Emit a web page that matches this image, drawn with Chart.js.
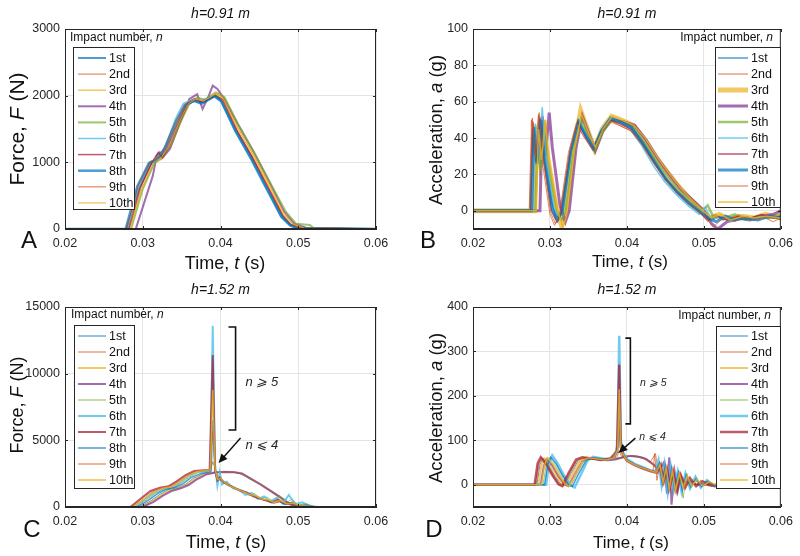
<!DOCTYPE html>
<html>
<head>
<meta charset="utf-8">
<script src="https://cdn.jsdelivr.net/npm/chart.js@4.4.1/dist/chart.umd.min.js"></script>
<style>
  body { margin: 0; background: #fff; }
  .panel { position: absolute; width: 400px; height: 278px; }
</style>
</head>
<body>
<div class="panel" style="left:0;top:0"><canvas id="cA" width="400" height="278"></canvas></div>
<div class="panel" style="left:400px;top:0"><canvas id="cB" width="400" height="278"></canvas></div>
<div class="panel" style="left:0;top:278px"><canvas id="cC" width="400" height="278"></canvas></div>
<div class="panel" style="left:400px;top:278px"><canvas id="cD" width="400" height="278"></canvas></div>
<script>
// impact labels and tick values
const impacts = ['1st','2nd','3rd','4th','5th','6th','7th','8th','9th','10th'];
const timeTicks = [0.02, 0.03, 0.04, 0.05, 0.06];
const forceTicksA = [0, 1000, 2000, 3000];
const accTicksB = [0, 20, 40, 60, 80, 100];
const forceTicksC = [0, 5000, 10000, 15000];
const accTicksD = [0, 100, 200, 300, 400];

// A: force, h = 0.91 m  [time s, force N]
const A1 = [[0.02,0],[0.0279,0],[0.0295,600],[0.031,980],[0.032,1050],[0.033,1200],[0.0345,1600],[0.0355,1850],[0.0365,1930],[0.0375,1900],[0.0392,2000],[0.040,1940],[0.042,1480],[0.044,1080],[0.046,620],[0.048,180],[0.049,60],[0.050,10],[0.06,0]];
const A2 = [[0.02,0],[0.028,0],[0.0296,620],[0.0312,1000],[0.0322,1060],[0.0332,1250],[0.0347,1650],[0.0357,1880],[0.0367,1950],[0.0377,1910],[0.0394,2010],[0.0402,1930],[0.042,1500],[0.044,1100],[0.046,650],[0.048,200],[0.0492,50],[0.0505,15],[0.0545,10],[0.06,0]];
const A3 = [[0.02,0],[0.0283,0],[0.0298,580],[0.0314,990],[0.0325,1050],[0.0335,1230],[0.0349,1620],[0.0359,1860],[0.0369,1960],[0.0379,1930],[0.0395,2030],[0.0404,1960],[0.0422,1520],[0.0442,1110],[0.0462,660],[0.048,230],[0.0495,60],[0.051,10],[0.06,0]];
const A4 = [[0.02,0],[0.0291,0],[0.0302,400],[0.0313,800],[0.0318,1100],[0.0322,1150],[0.0326,1080],[0.0335,1200],[0.0348,1600],[0.036,1950],[0.037,2020],[0.0377,1800],[0.0385,2000],[0.039,2150],[0.0396,2100],[0.0405,1950],[0.0423,1560],[0.0443,1150],[0.0463,700],[0.0482,260],[0.0495,80],[0.051,20],[0.0525,0],[0.06,0]];
const A5 = [[0.02,0],[0.0285,0],[0.03,600],[0.0315,990],[0.0326,1080],[0.0336,1260],[0.035,1640],[0.036,1880],[0.037,1970],[0.038,1940],[0.0394,2050],[0.0405,1980],[0.0424,1540],[0.0444,1130],[0.0464,690],[0.0484,260],[0.0497,80],[0.0505,70],[0.0515,60],[0.052,10],[0.06,0]];
const A6 = [[0.02,0],[0.0281,0],[0.0294,650],[0.0309,1000],[0.032,1070],[0.033,1260],[0.0342,1650],[0.0352,1880],[0.0365,1950],[0.0375,1930],[0.0392,1990],[0.0401,1900],[0.042,1450],[0.044,1040],[0.046,590],[0.0478,170],[0.0488,60],[0.0495,20],[0.06,0]];
const A7 = [[0.02,0],[0.0282,0],[0.0297,620],[0.0312,1000],[0.032,1150],[0.0325,1070],[0.0334,1240],[0.0348,1630],[0.0358,1870],[0.0368,1940],[0.0378,1900],[0.0394,2000],[0.0403,1940],[0.0421,1480],[0.0441,1070],[0.0461,630],[0.048,200],[0.049,70],[0.0505,10],[0.06,0]];
const A8 = [[0.02,0],[0.0278,0],[0.0293,640],[0.0308,990],[0.0318,1040],[0.0328,1210],[0.0343,1620],[0.0354,1860],[0.0366,1920],[0.0376,1880],[0.0392,1990],[0.0401,1920],[0.0419,1470],[0.0439,1060],[0.0459,610],[0.0478,190],[0.049,50],[0.0502,10],[0.06,0]];
const A9 = [[0.02,0],[0.0279,0],[0.0294,660],[0.0309,1010],[0.0319,1060],[0.0329,1230],[0.0344,1640],[0.0354,1870],[0.0366,1960],[0.0376,1920],[0.0393,2020],[0.0402,1950],[0.0421,1490],[0.0441,1090],[0.0461,640],[0.048,210],[0.0492,60],[0.0505,10],[0.0545,15],[0.06,0]];
const A10 = [[0.02,0],[0.0284,0],[0.0299,600],[0.0314,1000],[0.0324,1070],[0.0334,1240],[0.0348,1630],[0.0358,1870],[0.0368,1950],[0.0378,1920],[0.0394,2030],[0.0403,1970],[0.0422,1520],[0.0442,1120],[0.0462,680],[0.0481,240],[0.0494,70],[0.0508,10],[0.06,0]];

// B: acceleration, h = 0.91 m  [time s, acc g]
const B1 = [[0.02,0],[0.0274,0],[0.0277,45],[0.0281,25],[0.0286,52],[0.029,35],[0.0302,5],[0.0308,-4],[0.0314,0],[0.0326,30],[0.0336,49],[0.0346,42],[0.0356,35],[0.0366,44],[0.0378,51],[0.039,49],[0.0405,46],[0.042,38],[0.0435,27],[0.045,18],[0.0465,11],[0.048,5],[0.0495,0],[0.0505,-4],[0.0515,-2],[0.0525,-5],[0.054,-3],[0.0555,-5],[0.057,-3],[0.0585,-4],[0.06,-3]];
const B2 = [[0.02,0],[0.0273,0],[0.0276,50],[0.028,28],[0.0285,53],[0.0289,30],[0.03,-2],[0.0306,-8],[0.0312,-3],[0.0324,32],[0.0334,48],[0.0344,41],[0.0356,33],[0.0366,43],[0.0378,50],[0.039,47],[0.0405,44],[0.042,36],[0.0435,26],[0.045,17],[0.0465,10],[0.048,4],[0.0495,-1],[0.0505,-6],[0.0515,-3],[0.053,-5],[0.0545,-2],[0.056,-5],[0.0575,-3],[0.059,-6],[0.06,-4]];
const B3 = [[0.02,0],[0.028,0],[0.0283,47],[0.0287,30],[0.0292,50],[0.0296,32],[0.0308,2],[0.0315,-8],[0.032,-2],[0.0331,35],[0.034,55],[0.035,43],[0.0358,34],[0.0368,45],[0.038,52],[0.0392,50],[0.0408,47],[0.0423,39],[0.0438,29],[0.0453,21],[0.0468,13],[0.0483,6],[0.0498,0],[0.0508,-4],[0.052,-2],[0.0535,-5],[0.055,-3],[0.0565,-4],[0.058,-2],[0.06,-4]];
const B4 = [[0.02,0],[0.0287,0],[0.029,52],[0.0294,30],[0.0299,54],[0.0303,35],[0.0313,3],[0.032,-6],[0.0325,0],[0.0334,35],[0.0342,52],[0.0351,42],[0.0359,33],[0.0369,44],[0.038,50],[0.0395,49],[0.041,47],[0.0425,39],[0.044,29],[0.0455,20],[0.047,12],[0.0485,6],[0.05,0],[0.051,-7],[0.0518,-10],[0.053,-6],[0.0545,-4],[0.056,-5],[0.0575,-3],[0.059,-2],[0.06,0]];
const B5 = [[0.02,0],[0.0281,0],[0.0284,40],[0.0288,22],[0.0293,48],[0.0297,28],[0.0309,0],[0.0315,-5],[0.032,-1],[0.0331,33],[0.034,50],[0.035,41],[0.0358,33],[0.0368,43],[0.038,50],[0.0392,49],[0.0407,46],[0.0422,38],[0.0437,28],[0.0452,19],[0.0467,11],[0.0482,5],[0.0497,0],[0.0505,3],[0.0512,-3],[0.0525,-4],[0.054,-2],[0.0555,-5],[0.057,-3],[0.0585,-4],[0.06,-2]];
const B6 = [[0.02,0],[0.0278,0],[0.0281,48],[0.0285,30],[0.029,57],[0.0294,33],[0.0305,2],[0.0311,-4],[0.0317,0],[0.0328,33],[0.0337,50],[0.0347,42],[0.0356,34],[0.0366,44],[0.0378,51],[0.039,49],[0.0404,45],[0.0419,36],[0.0434,25],[0.0449,16],[0.0464,9],[0.0479,3],[0.0494,-2],[0.0502,2],[0.051,-5],[0.0522,-3],[0.0535,-6],[0.055,-3],[0.0565,-5],[0.058,-3],[0.06,-4]];
const B7 = [[0.02,0],[0.0275,0],[0.0278,49],[0.0282,27],[0.0287,51],[0.0291,30],[0.0302,0],[0.0309,-6],[0.0315,-1],[0.0326,32],[0.0336,49],[0.0346,41],[0.0356,34],[0.0366,43],[0.0378,50],[0.039,48],[0.0405,45],[0.042,37],[0.0435,27],[0.045,18],[0.0465,10],[0.048,4],[0.0495,-1],[0.0505,-5],[0.0518,-3],[0.053,-5],[0.0545,-3],[0.056,-4],[0.0575,-2],[0.059,-4],[0.06,-3]];
const B8 = [[0.02,0],[0.0276,0],[0.0279,46],[0.0283,26],[0.0288,50],[0.0292,31],[0.0303,1],[0.031,-5],[0.0316,0],[0.0327,33],[0.0337,49],[0.0347,41],[0.0357,34],[0.0367,44],[0.0379,51],[0.0391,49],[0.0406,46],[0.0421,37],[0.0436,27],[0.0451,17],[0.0466,10],[0.0481,4],[0.0496,-1],[0.0506,-4],[0.0516,-6],[0.0528,-3],[0.054,-5],[0.0555,-4],[0.057,-5],[0.0585,-3],[0.06,-4]];
const B9 = [[0.02,0],[0.0274,0],[0.0277,51],[0.0281,29],[0.0286,54],[0.029,32],[0.0301,-1],[0.0307,-7],[0.0313,-2],[0.0325,31],[0.0335,48],[0.0345,40],[0.0356,33],[0.0366,42],[0.0378,49],[0.039,47],[0.0405,44],[0.042,36],[0.0435,26],[0.045,17],[0.0465,10],[0.048,4],[0.0495,-1],[0.0505,-5],[0.0512,-9],[0.0525,-4],[0.054,-6],[0.0555,-3],[0.057,-5],[0.0585,-3],[0.06,-5]];
const B10 = [[0.02,0],[0.0282,0],[0.0285,45],[0.0289,28],[0.0294,50],[0.0298,30],[0.031,0],[0.0317,-9],[0.0322,-2],[0.0332,34],[0.0341,53],[0.0351,42],[0.0359,35],[0.0369,45],[0.0381,52],[0.0393,50],[0.0409,47],[0.0424,40],[0.0439,30],[0.0454,21],[0.0469,13],[0.0484,6],[0.0499,0],[0.051,-4],[0.0522,-2],[0.0535,-5],[0.055,-3],[0.0565,-4],[0.058,-3],[0.06,-4]];

// C: force, h = 1.52 m
const C1 = [[0.02,0],[0.0296,0],[0.031,450],[0.0322,950],[0.0333,1300],[0.0345,1450],[0.0355,1700],[0.0365,2150],[0.0378,2500],[0.039,2600],[0.0402,2650],[0.0415,2620],[0.0425,2520],[0.045,1700],[0.0474,780],[0.0487,220],[0.0496,30],[0.0505,0],[0.06,0]];
const C2 = [[0.02,0],[0.0287,0],[0.0301,600],[0.0313,1150],[0.0325,1420],[0.0336,1530],[0.0346,1880],[0.0357,2350],[0.0369,2670],[0.038,2740],[0.0387,2780],[0.039,3400],[0.0394,2700],[0.0398,2100],[0.0404,1850],[0.0412,1550],[0.042,1350],[0.0428,1200],[0.0436,950],[0.0444,800],[0.0452,600],[0.046,480],[0.0468,320],[0.0476,420],[0.0484,200],[0.0492,280],[0.05,80],[0.051,60],[0.052,0],[0.06,0]];
const C3 = [[0.02,0],[0.0298,0],[0.0312,420],[0.0324,900],[0.0335,1250],[0.0347,1430],[0.0357,1680],[0.0367,2100],[0.038,2480],[0.0392,2590],[0.0404,2640],[0.0417,2620],[0.0427,2530],[0.0452,1680],[0.0476,760],[0.0489,200],[0.0498,20],[0.0507,0],[0.06,0]];
const C4 = [[0.02,0],[0.03,0],[0.0314,380],[0.0326,850],[0.0337,1200],[0.0349,1400],[0.0359,1650],[0.0369,2050],[0.0382,2450],[0.0394,2580],[0.0406,2620],[0.0418,2600],[0.0428,2500],[0.0453,1650],[0.0477,740],[0.049,200],[0.0499,20],[0.0508,0],[0.06,0]];
const C5 = [[0.02,0],[0.0291,0],[0.0305,550],[0.0317,1050],[0.0329,1350],[0.034,1480],[0.035,1800],[0.036,2250],[0.0372,2600],[0.0383,2700],[0.0387,2800],[0.039,11200],[0.0393,3000],[0.0396,1900],[0.0399,2300],[0.0403,1800],[0.041,1700],[0.042,1350],[0.0428,1200],[0.0436,900],[0.0444,1000],[0.0452,650],[0.046,750],[0.0468,400],[0.0476,850],[0.0484,300],[0.0492,600],[0.05,150],[0.051,250],[0.052,50],[0.053,0],[0.06,0]];
const C6 = [[0.02,0],[0.0289,0],[0.0303,580],[0.0315,1100],[0.0327,1380],[0.0338,1500],[0.0348,1850],[0.0358,2300],[0.037,2650],[0.0382,2720],[0.0387,2800],[0.039,13600],[0.0393,3200],[0.0396,1600],[0.0399,2600],[0.0402,1700],[0.0408,1900],[0.0416,1400],[0.0424,1300],[0.0432,900],[0.044,1050],[0.0448,600],[0.0456,800],[0.0464,400],[0.0472,700],[0.048,250],[0.0488,900],[0.0496,200],[0.0505,350],[0.0515,80],[0.0525,0],[0.06,0]];
const C7 = [[0.02,0],[0.0284,0],[0.0298,650],[0.031,1200],[0.0322,1450],[0.0333,1550],[0.0343,1900],[0.0355,2400],[0.0366,2700],[0.0378,2750],[0.0386,2780],[0.039,11400],[0.0393,2800],[0.0396,2000],[0.0399,2200],[0.0404,1900],[0.041,1650],[0.0418,1450],[0.0426,1200],[0.0434,1100],[0.0442,800],[0.045,650],[0.0458,500],[0.0466,350],[0.0474,550],[0.0482,250],[0.049,300],[0.05,100],[0.051,50],[0.052,0],[0.06,0]];
const C8 = [[0.02,0],[0.0293,0],[0.0307,500],[0.0319,1000],[0.033,1320],[0.0342,1480],[0.0352,1750],[0.0362,2200],[0.0375,2520],[0.0385,2620],[0.0388,2700],[0.039,6500],[0.0393,2700],[0.0396,2000],[0.04,2100],[0.0405,1800],[0.0412,1600],[0.042,1350],[0.0428,1250],[0.0436,950],[0.0444,850],[0.0452,600],[0.046,500],[0.0468,300],[0.0476,450],[0.0484,200],[0.0492,350],[0.05,100],[0.051,150],[0.052,0],[0.06,0]];
const C9 = [[0.02,0],[0.0285,0],[0.0299,640],[0.0311,1180],[0.0323,1440],[0.0334,1540],[0.0344,1890],[0.0356,2380],[0.0367,2690],[0.0379,2750],[0.0386,2800],[0.039,5700],[0.0393,2900],[0.0396,2100],[0.04,2000],[0.0406,1850],[0.0414,1500],[0.0422,1300],[0.043,1150],[0.0438,900],[0.0446,750],[0.0454,550],[0.0462,450],[0.047,300],[0.0478,400],[0.0486,200],[0.0494,250],[0.0505,80],[0.0515,40],[0.0525,0],[0.06,0]];
const C10 = [[0.02,0],[0.0288,0],[0.0302,600],[0.0314,1130],[0.0326,1400],[0.0337,1520],[0.0347,1870],[0.0358,2330],[0.037,2660],[0.0381,2730],[0.0387,2790],[0.039,8800],[0.0393,2900],[0.0396,2050],[0.04,2150],[0.0406,1800],[0.0413,1550],[0.0421,1350],[0.0429,1150],[0.0437,950],[0.0445,850],[0.0453,600],[0.0461,550],[0.0469,350],[0.0477,500],[0.0485,250],[0.0493,300],[0.0502,100],[0.0512,80],[0.0522,0],[0.06,0]];

// D: acceleration, h = 1.52 m
const D1 = [[0.02,0],[0.0283,0],[0.0287,45],[0.0291,60],[0.0298,45],[0.0306,20],[0.0314,2],[0.0319,-2],[0.0327,25],[0.0337,55],[0.0345,60],[0.0358,58],[0.037,55],[0.038,58],[0.039,60],[0.040,65],[0.041,65],[0.042,62],[0.043,52],[0.044,36],[0.0452,22],[0.0465,12],[0.048,5],[0.049,8],[0.05,0],[0.052,-2],[0.054,-4],[0.056,-3],[0.058,-5],[0.06,-3]];
const D2 = [[0.02,0],[0.0281,0],[0.0285,48],[0.0289,62],[0.0296,46],[0.0304,20],[0.0312,0],[0.0317,-3],[0.0325,27],[0.0335,56],[0.0343,61],[0.0356,58],[0.0368,55],[0.038,59],[0.0387,62],[0.039,76],[0.0393,64],[0.04,64],[0.041,64],[0.042,61],[0.043,50],[0.0437,70],[0.0441,30],[0.0452,22],[0.0465,10],[0.048,4],[0.05,-1],[0.052,-3],[0.054,-5],[0.056,-2],[0.058,-6],[0.06,-4]];
const D3 = [[0.02,0],[0.0285,0],[0.0289,44],[0.0293,59],[0.03,45],[0.0308,21],[0.0316,3],[0.0321,-2],[0.0329,24],[0.0339,54],[0.0347,60],[0.036,58],[0.0372,55],[0.0382,58],[0.0392,61],[0.0402,65],[0.0412,64],[0.0422,60],[0.0432,48],[0.0442,33],[0.0454,20],[0.0467,10],[0.0482,4],[0.05,0],[0.052,-3],[0.054,-2],[0.056,-4],[0.058,-3],[0.06,-5]];
const D4 = [[0.02,0],[0.0288,0],[0.0292,42],[0.0296,58],[0.0303,44],[0.0311,20],[0.0319,2],[0.0324,-3],[0.0332,23],[0.0342,53],[0.035,59],[0.0363,57],[0.0375,55],[0.0385,57],[0.0395,62],[0.0405,65],[0.0415,63],[0.0425,58],[0.0435,45],[0.0442,32],[0.0448,50],[0.0452,-20],[0.0455,62],[0.0458,-45],[0.0462,30],[0.0466,-15],[0.047,20],[0.0475,5],[0.048,10],[0.049,0],[0.05,2],[0.052,-3],[0.054,-4],[0.056,-2],[0.058,-5],[0.06,-3]];
const D5 = [[0.02,0],[0.0291,0],[0.0295,44],[0.0299,60],[0.0306,46],[0.0314,21],[0.0322,2],[0.0327,-3],[0.0335,25],[0.0345,55],[0.0353,60],[0.0364,58],[0.0375,56],[0.0384,62],[0.0388,80],[0.039,275],[0.0392,90],[0.0395,70],[0.04,55],[0.041,45],[0.042,38],[0.043,32],[0.0438,28],[0.0443,50],[0.0447,5],[0.0451,40],[0.0455,-10],[0.0459,35],[0.0463,-20],[0.0468,30],[0.0473,-30],[0.0478,25],[0.0483,-5],[0.049,15],[0.0497,-5],[0.0505,8],[0.0515,-3],[0.053,2],[0.055,-4],[0.057,-2],[0.06,-5]];
const D6 = [[0.02,0],[0.0295,0],[0.0299,50],[0.0303,66],[0.031,48],[0.0318,22],[0.0326,0],[0.0332,-6],[0.034,22],[0.0349,55],[0.0356,63],[0.0366,60],[0.0376,57],[0.0384,63],[0.0388,90],[0.039,335],[0.0392,100],[0.0395,72],[0.04,58],[0.041,47],[0.042,40],[0.043,33],[0.0437,30],[0.0441,55],[0.0445,0],[0.0449,45],[0.0453,-15],[0.0457,40],[0.0461,-10],[0.0466,30],[0.0471,-15],[0.0476,25],[0.0482,-8],[0.0489,18],[0.0496,-6],[0.0504,10],[0.0514,-4],[0.0525,4],[0.054,-5],[0.056,-2],[0.058,-4],[0.06,-3]];
const D7 = [[0.02,0],[0.028,0],[0.0284,48],[0.0288,62],[0.0295,47],[0.0303,22],[0.0311,1],[0.0316,-3],[0.0324,26],[0.0334,57],[0.0342,62],[0.0355,59],[0.0367,56],[0.0379,60],[0.0387,75],[0.039,270],[0.0392,85],[0.0395,68],[0.04,54],[0.041,44],[0.042,37],[0.043,31],[0.0439,27],[0.0444,45],[0.0448,8],[0.0452,35],[0.0456,-5],[0.046,30],[0.0465,-12],[0.047,22],[0.0476,-6],[0.0482,15],[0.049,-3],[0.0498,8],[0.051,-2],[0.0525,3],[0.054,-3],[0.056,-5],[0.058,-3],[0.06,-4]];
const D8 = [[0.02,0],[0.0293,0],[0.0297,46],[0.0301,62],[0.0308,47],[0.0316,22],[0.0324,1],[0.0329,-4],[0.0337,24],[0.0347,55],[0.0355,61],[0.0365,59],[0.0375,56],[0.0384,62],[0.0388,75],[0.039,160],[0.0392,80],[0.0395,68],[0.04,56],[0.041,46],[0.042,39],[0.043,33],[0.0438,29],[0.0442,48],[0.0446,2],[0.045,42],[0.0454,-12],[0.0458,36],[0.0462,-8],[0.0467,28],[0.0472,-12],[0.0477,22],[0.0483,-5],[0.049,14],[0.0497,-4],[0.0505,8],[0.0515,-3],[0.053,3],[0.055,-4],[0.057,-2],[0.06,-4]];
const D9 = [[0.02,0],[0.0282,0],[0.0286,47],[0.029,61],[0.0297,46],[0.0305,21],[0.0313,1],[0.0318,-3],[0.0326,26],[0.0336,56],[0.0344,61],[0.0357,58],[0.0369,55],[0.038,60],[0.0387,72],[0.039,140],[0.0392,78],[0.0395,67],[0.04,54],[0.041,45],[0.042,38],[0.0428,34],[0.0434,30],[0.0436,70],[0.0439,10],[0.0443,45],[0.0447,0],[0.0451,38],[0.0455,-8],[0.0459,32],[0.0464,-10],[0.0469,25],[0.0475,-5],[0.0481,18],[0.0488,-3],[0.0496,10],[0.0506,-3],[0.052,4],[0.054,-4],[0.056,-3],[0.058,-6],[0.06,-4]];
const D10 = [[0.02,0],[0.0289,0],[0.0293,45],[0.0297,61],[0.0304,46],[0.0312,21],[0.032,1],[0.0325,-3],[0.0333,25],[0.0343,55],[0.0351,61],[0.0362,58],[0.0373,56],[0.0383,61],[0.0388,78],[0.039,215],[0.0392,85],[0.0395,69],[0.04,55],[0.041,45],[0.042,38],[0.043,32],[0.0438,28],[0.0443,46],[0.0447,6],[0.0451,38],[0.0455,-10],[0.0459,33],[0.0463,-14],[0.0468,26],[0.0473,-8],[0.0478,20],[0.0484,-4],[0.0491,13],[0.0498,-3],[0.0507,7],[0.0518,-2],[0.053,3],[0.055,-3],[0.057,-5],[0.06,-3]];

// matlab-ish line colours, a bit faded
const colors = ['rgba(0,114,189,0.7)','rgba(217,83,25,0.7)','rgba(237,177,32,0.7)','rgba(126,47,142,0.7)','rgba(119,172,48,0.7)',
                'rgba(77,190,238,0.8)','rgba(162,20,47,0.7)','rgba(0,114,189,0.7)','rgba(217,83,25,0.7)','rgba(237,177,32,0.8)'];

const FONT = '"Liberation Sans", Arial, sans-serif';
const INK = '#262626';

function rich(ctx, parts, x, y, size, align) {
  let w = 0;
  parts.forEach(p => { ctx.font = (p[1] ? 'italic ' : '') + size + 'px ' + FONT; w += ctx.measureText(p[0]).width; });
  let cx = align === 'center' ? x - w / 2 : align === 'right' ? x - w : x;
  ctx.textAlign = 'left';
  ctx.textBaseline = 'middle';
  parts.forEach(p => {
    ctx.font = (p[1] ? 'italic ' : '') + size + 'px ' + FONT;
    ctx.fillText(p[0], cx, y);
    cx += ctx.measureText(p[0]).width;
  });
}

const panelPlugin = {
  id: 'panel',
  afterDatasetsDraw(chart, args, o) {
    const {ctx, chartArea: a, scales: {x, y}} = chart;
    ctx.save();
    ctx.strokeStyle = INK;
    ctx.lineWidth = 1;
    ctx.strokeRect(a.left + 0.5, a.top + 0.5, a.width - 1, a.height - 1);
    // inner tick marks
    ctx.beginPath();
    timeTicks.forEach(t => {
      const px = Math.round(x.getPixelForValue(t)) + 0.5;
      ctx.moveTo(px, a.bottom); ctx.lineTo(px, a.bottom - 3);
      ctx.moveTo(px, a.top); ctx.lineTo(px, a.top + 3);
    });
    o.yTicks.forEach(v => {
      const py = Math.round(y.getPixelForValue(v)) + 0.5;
      ctx.moveTo(a.left, py); ctx.lineTo(a.left + 3, py);
      ctx.moveTo(a.right, py); ctx.lineTo(a.right - 3, py);
    });
    ctx.stroke();

    // bracket + arrow annotations
    if (o.note) {
      const n = o.note;
      ctx.fillStyle = '#111';
      ctx.strokeStyle = '#111';
      ctx.lineWidth = 1.6;
      const bx = x.getPixelForValue(n.bx), bt = x.getPixelForValue(n.btick);
      const yt = y.getPixelForValue(n.top), yb = y.getPixelForValue(n.bot);
      ctx.beginPath();
      ctx.moveTo(bt, yt); ctx.lineTo(bx, yt); ctx.lineTo(bx, yb); ctx.lineTo(bt, yb);
      ctx.stroke();
      const x0 = x.getPixelForValue(n.from[0]), y0 = y.getPixelForValue(n.from[1]);
      const x1 = x.getPixelForValue(n.to[0]), y1 = y.getPixelForValue(n.to[1]);
      const ang = Math.atan2(y1 - y0, x1 - x0);
      ctx.lineWidth = 1.4;
      ctx.beginPath();
      ctx.moveTo(x0, y0);
      ctx.lineTo(x1 - 7 * Math.cos(ang), y1 - 7 * Math.sin(ang));
      ctx.stroke();
      ctx.beginPath();
      ctx.moveTo(x1, y1);
      ctx.lineTo(x1 - 9 * Math.cos(ang) + 4 * Math.sin(ang), y1 - 9 * Math.sin(ang) - 4 * Math.cos(ang));
      ctx.lineTo(x1 - 9 * Math.cos(ang) - 4 * Math.sin(ang), y1 - 9 * Math.sin(ang) + 4 * Math.cos(ang));
      ctx.closePath();
      ctx.fill();
      ctx.fillStyle = INK;
      rich(ctx, [['n \u2A7E 5', 1]], x.getPixelForValue(n.hi[0]), y.getPixelForValue(n.hi[1]), n.size, 'left');
      rich(ctx, [['n \u2A7D 4', 1]], x.getPixelForValue(n.lo[0]), y.getPixelForValue(n.lo[1]), n.size, 'left');
    }

    // legend box
    const L = o.legend;
    ctx.fillStyle = '#fff';
    ctx.fillRect(L.box[0], L.box[1], L.box[2] - L.box[0], L.box[3] - L.box[1]);
    ctx.strokeStyle = INK;
    ctx.lineWidth = 1;
    ctx.strokeRect(L.box[0] + 0.5, L.box[1] + 0.5, L.box[2] - L.box[0], L.box[3] - L.box[1]);
    ctx.fillStyle = '#111';
    rich(ctx, [['Impact number, ', 0], ['n', 1]], L.title[0], L.title[1], 12, L.title[2]);
    chart.data.datasets.forEach((ds, i) => {
      const ly = L.first + i * L.step;
      ctx.strokeStyle = ds.borderColor;
      ctx.lineWidth = Math.max(1.2, ds.borderWidth);
      ctx.beginPath();
      ctx.moveTo(L.line[0], ly); ctx.lineTo(L.line[1], ly);
      ctx.stroke();
      ctx.fillStyle = '#111';
      rich(ctx, [[ds.label, 0]], L.line[1] + 3, ly + 0.5, 12.5, 'left');
    });
    ctx.restore();
  },
  afterDraw(chart, args, o) {
    const {ctx, chartArea: a} = chart;
    ctx.save();
    ctx.fillStyle = '#111';
    rich(ctx, o.title, (a.left + a.right) / 2, 14 - (o.lift || 0), 14, 'center');
    rich(ctx, [['Time, ', 0], ['t', 1], [' (s)', 0]], o.xTitle[0], o.xTitle[1], o.xTitle[2], 'center');
    ctx.save();
    ctx.translate(o.yTitle[0], o.yTitle[1]);
    ctx.rotate(-Math.PI / 2);
    rich(ctx, o.yText, 0, 0, o.yTitle[2], 'center');
    ctx.restore();
    ctx.font = '24px ' + FONT;
    ctx.textAlign = 'center';
    ctx.textBaseline = 'middle';
    ctx.fillText(o.letter[0], o.letter[1], o.letter[2]);
    ctx.restore();
  }
};

function makeChart(id, series, yMin, yMax, yTicks, widths, left, panel) {
  const datasets = series.map((s, i) => ({
    label: impacts[i],
    data: s.map(p => ({x: p[0], y: p[1]})),
    borderColor: colors[i],
    borderWidth: widths[i],
    pointRadius: 0,
    tension: 0,
    fill: false,
    order: 10 - i
  }));
  panel.yTicks = yTicks;
  return new Chart(document.getElementById(id), {
    type: 'line',
    data: {datasets: datasets},
    plugins: [panelPlugin],
    options: {
      responsive: false,
      animation: false,
      events: [],
      layout: {padding: {left: 0, right: 400 - left - 311, top: 29, bottom: 0}},
      plugins: {legend: {display: false}, tooltip: {enabled: false}, panel: panel},
      scales: {
        x: {
          type: 'linear', min: 0.02, max: 0.06,
          afterBuildTicks: s => { s.ticks = timeTicks.map(v => ({value: v})); },
          afterFit: s => { s.height = 49; },
          grid: {color: '#e4e4e4', drawTicks: false},
          border: {color: INK},
          ticks: {padding: 7, color: INK, maxRotation: 0, autoSkip: false,
                  font: {family: FONT, size: 12.5}, callback: v => v.toFixed(2)}
        },
        y: {
          type: 'linear', min: yMin, max: yMax,
          afterBuildTicks: s => { s.ticks = yTicks.map(v => ({value: v})); },
          afterFit: s => { s.width = left; },
          grid: {color: '#e4e4e4', drawTicks: false},
          border: {color: INK},
          ticks: {padding: 5, color: INK, font: {family: FONT, size: 12.5}, callback: v => String(v)}
        }
      }
    }
  });
}

makeChart('cA', [A1,A2,A3,A4,A5,A6,A7,A8,A9,A10], 0, 3000, forceTicksA,
  [2,1,1.5,2,2,1.5,1.5,2.5,1,1], 65, {
    title: [['h=0.91 m', 1]], letter: ['A', 29, 241],
    xTitle: [225, 264, 18], yTitle: [18, 129, 21],
    yText: [['Force, ', 0], ['F', 1], [' (N)', 0]],
    legend: {box: [73, 47, 134, 209], line: [78, 106], first: 58, step: 16.1, title: [70, 38, 'left']}
  });

makeChart('cB', [B1,B2,B3,B4,B5,B6,B7,B8,B9,B10], -10, 100, accTicksB,
  [1.5,1,5,3,2.5,1.5,1.5,3,1,1.5], 73, {
    title: [['h=0.91 m', 1]], letter: ['B', 28, 241],
    xTitle: [230, 262, 17], yTitle: [37, 130, 18.5],
    yText: [['Acceleration, ', 0], ['a', 1], [' (g)', 0]],
    legend: {box: [315, 47, 380, 207], line: [318, 348], first: 58, step: 16, title: [373, 38, 'right']}
  });

makeChart('cC', [C1,C2,C3,C4,C5,C6,C7,C8,C9,C10], 0, 15000, forceTicksC,
  [1,1,2,2,1,2,2,1.5,1,1.5], 65, {
    title: [['h=1.52 m', 1]], letter: ['C', 32, 252], lift: 2,
    xTitle: [226, 265, 18], yTitle: [18, 127, 18],
    yText: [['Force, ', 0], ['F', 1], [' (N)', 0]],
    legend: {box: [74, 47, 134, 210], line: [78, 106], first: 58, step: 16, title: [71, 37, 'left']},
    note: {bx: 0.04194, btick: 0.04103, top: 13500, bot: 5775, from: [0.04258, 5175], to: [0.03974, 3300],
           hi: [0.04323, 9375], lo: [0.04323, 4650], size: 13}
  });

makeChart('cD', [D1,D2,D3,D4,D5,D6,D7,D8,D9,D10], -50, 400, accTicksD,
  [1,1,2,2,1,2.5,2.5,1.5,1,1.5], 73, {
    title: [['h=1.52 m', 1]], letter: ['D', 34, 252], lift: 2,
    xTitle: [231, 265, 17], yTitle: [37, 130, 18.5],
    yText: [['Acceleration, ', 0], ['a', 1], [' (g)', 0]],
    legend: {box: [316, 48, 380, 210], line: [320, 348], first: 58, step: 16, title: [371, 38, 'right']},
    note: {bx: 0.04045, btick: 0.0398, top: 330, bot: 137, from: [0.0411, 105], to: [0.0389, 71.5],
           hi: [0.0417, 229], lo: [0.0416, 107.5], size: 10.5}
  });
</script>
</body>
</html>
